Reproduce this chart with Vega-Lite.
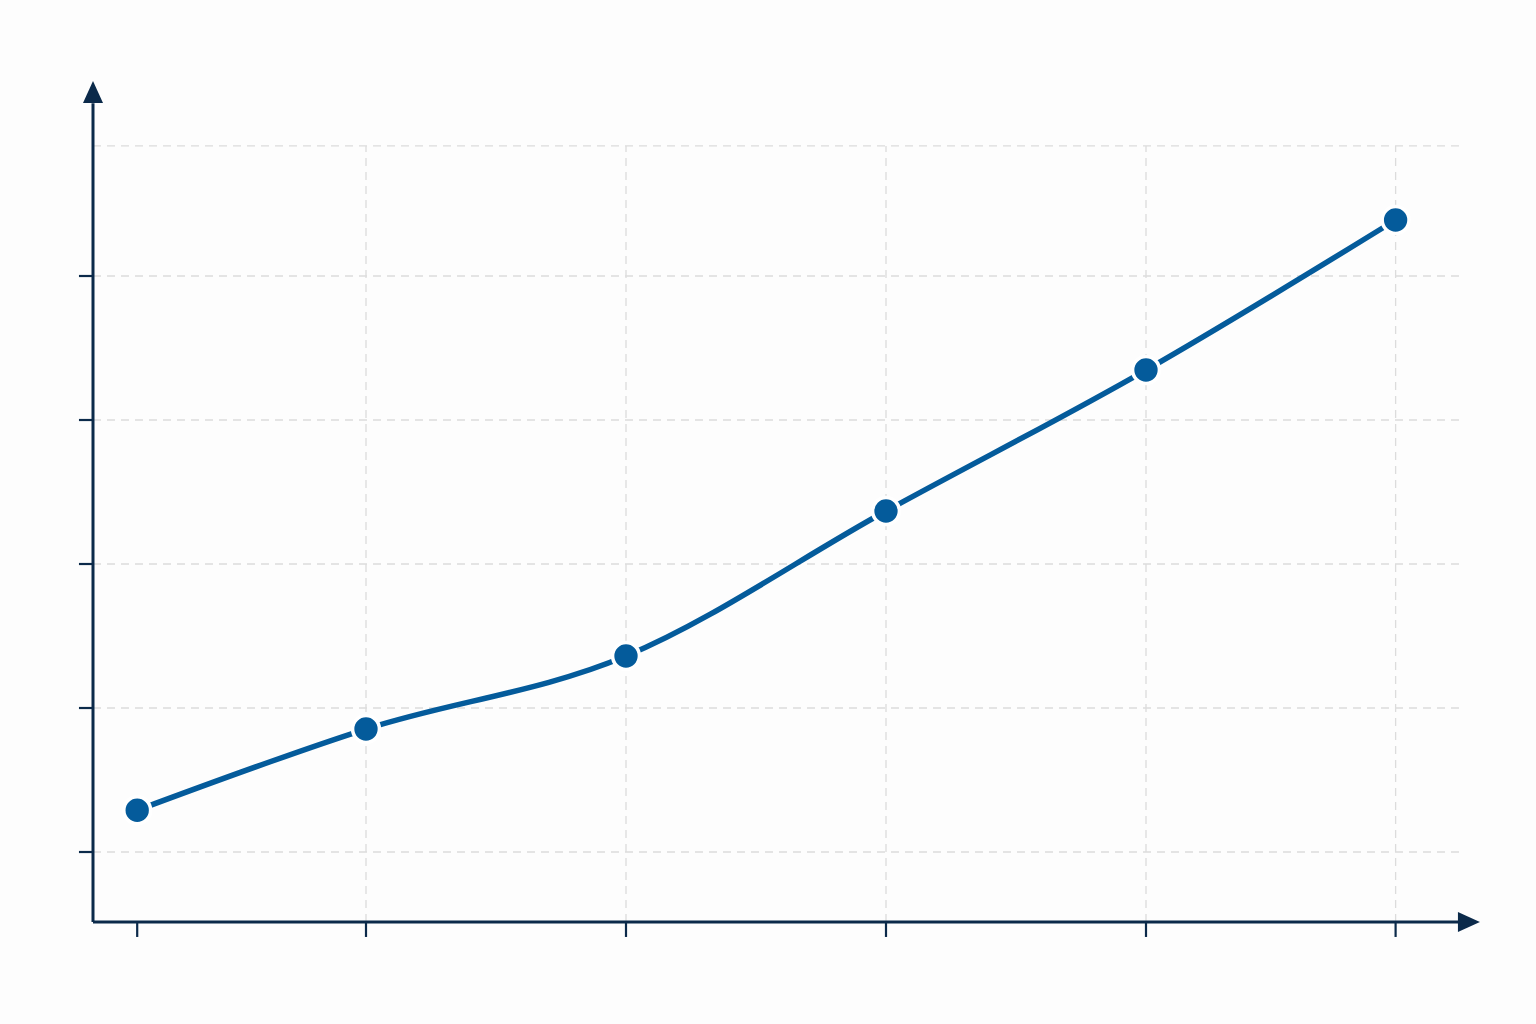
{
  "$schema": "https://vega.github.io/schema/vega-lite/v6.json",
  "width": 1536,
  "height": 1024,
  "autosize": {"type": "none"},
  "padding": 0,
  "background": "#fdfdfd",
  "config": {"view": {"stroke": null}},
  "datasets": {
    "series": [
      {"step": 0.12, "value": 0.29},
      {"step": 1, "value": 0.854},
      {"step": 2, "value": 1.361},
      {"step": 3, "value": 2.368},
      {"step": 4, "value": 3.347},
      {"step": 4.96, "value": 4.389}
    ],
    "hgrid": [
      {"value": 0}, {"value": 1}, {"value": 2}, {"value": 3}, {"value": 4}, {"value": 4.903}
    ],
    "yticks": [
      {"value": 0}, {"value": 1}, {"value": 2}, {"value": 3}, {"value": 4}
    ],
    "vgrid": [
      {"step": 1}, {"step": 2}, {"step": 3}, {"step": 4}, {"step": 4.96}
    ],
    "xticks": [
      {"step": 0.12}, {"step": 1}, {"step": 2}, {"step": 3}, {"step": 4}, {"step": 4.96}
    ],
    "axes": [
      {"x": -0.05, "x2": -0.05, "y": -0.486, "y2": 5.2},
      {"x": -0.05, "x2": 5.2, "y": -0.486, "y2": -0.486}
    ],
    "arrows": [
      {"x": -0.05, "y": 5.278, "dir": "up"},
      {"x": 5.242, "y": -0.486, "dir": "right"}
    ]
  },
  "layer": [
    {
      "data": {"name": "hgrid"},
      "mark": {"type": "rule", "stroke": "#dcdcdc", "strokeWidth": 1.3, "strokeDash": [8, 6]},
      "encoding": {
        "y": {"field": "value", "type": "quantitative", "scale": {"domain": [-1.1944, 5.9167], "nice": false, "zero": false}, "axis": null},
        "x": {"datum": -0.05, "type": "quantitative", "scale": {"domain": [-0.4077, 5.5], "nice": false, "zero": false}, "axis": null},
        "x2": {"datum": 5.219}
      }
    },
    {
      "data": {"name": "vgrid"},
      "mark": {"type": "rule", "stroke": "#dcdcdc", "strokeWidth": 1.3, "strokeDash": [8, 6]},
      "encoding": {
        "x": {"field": "step", "type": "quantitative", "scale": {"domain": [-0.4077, 5.5], "nice": false, "zero": false}, "axis": null},
        "y": {"datum": -0.486, "type": "quantitative", "scale": {"domain": [-1.1944, 5.9167], "nice": false, "zero": false}, "axis": null},
        "y2": {"datum": 4.903}
      }
    },
    {
      "data": {"name": "xticks"},
      "mark": {"type": "rule", "stroke": "#0b2a4a", "strokeWidth": 2.2},
      "encoding": {
        "x": {"field": "step", "type": "quantitative", "scale": {"domain": [-0.4077, 5.5], "nice": false, "zero": false}, "axis": null},
        "y": {"datum": -0.486, "type": "quantitative", "scale": {"domain": [-1.1944, 5.9167], "nice": false, "zero": false}, "axis": null},
        "y2": {"datum": -0.59}
      }
    },
    {
      "data": {"name": "yticks"},
      "mark": {"type": "rule", "stroke": "#0b2a4a", "strokeWidth": 2.2},
      "encoding": {
        "y": {"field": "value", "type": "quantitative", "scale": {"domain": [-1.1944, 5.9167], "nice": false, "zero": false}, "axis": null},
        "x": {"datum": -0.104, "type": "quantitative", "scale": {"domain": [-0.4077, 5.5], "nice": false, "zero": false}, "axis": null},
        "x2": {"datum": -0.05}
      }
    },
    {
      "data": {"name": "axes"},
      "mark": {"type": "rule", "stroke": "#0b2a4a", "strokeWidth": 3},
      "encoding": {
        "x": {"field": "x", "type": "quantitative", "scale": {"domain": [-0.4077, 5.5], "nice": false, "zero": false}, "axis": null},
        "x2": {"field": "x2"},
        "y": {"field": "y", "type": "quantitative", "scale": {"domain": [-1.1944, 5.9167], "nice": false, "zero": false}, "axis": null},
        "y2": {"field": "y2"}
      }
    },
    {
      "data": {"name": "arrows"},
      "mark": {"type": "point", "filled": true, "size": 400, "color": "#0b2a4a", "opacity": 1},
      "encoding": {
        "x": {"field": "x", "type": "quantitative", "scale": {"domain": [-0.4077, 5.5], "nice": false, "zero": false}, "axis": null},
        "y": {"field": "y", "type": "quantitative", "scale": {"domain": [-1.1944, 5.9167], "nice": false, "zero": false}, "axis": null},
        "shape": {
          "field": "dir",
          "type": "nominal",
          "scale": {"domain": ["up", "right"], "range": ["M0,-1.1L-1,1.1L1,1.1Z", "M1.1,0L-1.1,-1L-1.1,1Z"]},
          "legend": null
        }
      }
    },
    {
      "data": {"name": "series"},
      "mark": {"type": "line", "interpolate": "monotone", "stroke": "#045b9b", "strokeWidth": 5.5},
      "encoding": {
        "x": {"field": "step", "type": "quantitative", "scale": {"domain": [-0.4077, 5.5], "nice": false, "zero": false}, "axis": null},
        "y": {"field": "value", "type": "quantitative", "scale": {"domain": [-1.1944, 5.9167], "nice": false, "zero": false}, "axis": null}
      }
    },
    {
      "data": {"name": "series"},
      "mark": {"type": "point", "filled": true, "size": 720, "fill": "#045b9b", "stroke": "white", "strokeWidth": 3.5, "opacity": 1},
      "encoding": {
        "x": {"field": "step", "type": "quantitative", "scale": {"domain": [-0.4077, 5.5], "nice": false, "zero": false}, "axis": null},
        "y": {"field": "value", "type": "quantitative", "scale": {"domain": [-1.1944, 5.9167], "nice": false, "zero": false}, "axis": null}
      }
    }
  ]
}
